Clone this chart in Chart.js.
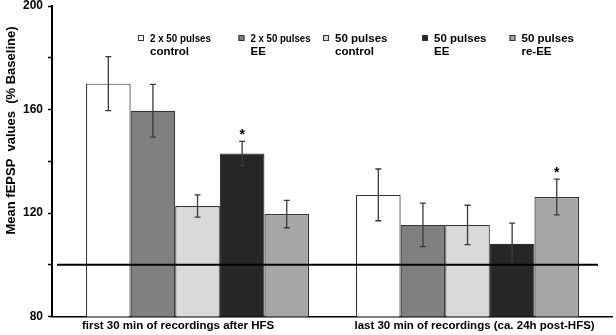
<!DOCTYPE html>
<html><head><meta charset="utf-8">
<script src="https://cdn.jsdelivr.net/npm/chart.js@4.4.0/dist/chart.umd.min.js"></script>
<style>html,body{margin:0;padding:0;background:#fff}canvas{display:block}</style>
</head><body>
<canvas id="c" width="616" height="335"></canvas>
<script>
// ---- data ----
const categories = ['first 30 min of recordings after HFS', 'last 30 min of recordings (ca. 24h post-HFS)'];
const seriesLabels = [['2 x 50 pulses', 'control'], ['2 x 50 pulses', 'EE'], ['50 pulses', 'control'], ['50 pulses', 'EE'], ['50 pulses', 're-EE']];
const mean2x50Control = [170, 127];
const sem2x50Control = [10.4, 10];
const mean2x50EE = [159.5, 115.4];
const sem2x50EE = [10.2, 8.4];
const mean50Control = [122.7, 115.4];
const sem50Control = [4.3, 7.6];
const mean50EE = [143, 108.1];
const sem50EE = [4.7, 8];
const mean50ReEE = [119.6, 126.2];
const sem50ReEE = [5.3, 6.9];
const star2x50Control = [false, false];
const star2x50EE = [false, false];
const star50Control = [false, false];
const star50EE = [true, false];
const star50ReEE = [false, true];
const baselineValue = 100;
const yMin = 80, yMax = 200, yStep = 20, yLabelEvery = 40;
const yTitle = 'Mean fEPSP  values  (% Baseline)';

// ---- styles ----
const FONT = '"Liberation Sans", Arial, sans-serif';
const fills = ['#ffffff', '#808080', '#d9d9d9', '#262626', '#a6a6a6'];
const means = [mean2x50Control, mean2x50EE, mean50Control, mean50EE, mean50ReEE];
const sems = [sem2x50Control, sem2x50EE, sem50Control, sem50EE, sem50ReEE];
const stars = [star2x50Control, star2x50EE, star50Control, star50EE, star50ReEE];
const labelPos = [-0.072, 1.026];           // label centre offsets (category units)
const legendX = [138, 238.5, 323, 422, 509.5];
const legendTextW = [61, 60, null, null, null];

const datasets = means.map((m, i) => ({
  label: seriesLabels[i].join(' '),
  data: m.map((v, j) => ({x: j, y: v})),
  backgroundColor: fills[i],
  borderColor: '#333',
  borderWidth: 1.2,
  categoryPercentage: 0.826,
  barPercentage: 1.0
}));

const extras = {
  id: 'extras',
  afterDatasetsDraw(chart) {
    const ctx = chart.ctx, ys = chart.scales.y, ca = chart.chartArea;
    ctx.save();
    datasets.forEach((d, i) => {
      const meta = chart.getDatasetMeta(i);
      meta.data.forEach((el, j) => {
        const m = means[i][j], e = sems[i][j];
        const y1 = ys.getPixelForValue(m + e), y2 = ys.getPixelForValue(m - e);
        ctx.strokeStyle = '#3a3a3a';
        ctx.lineWidth = 1.3;
        ctx.beginPath();
        ctx.moveTo(el.x, y1); ctx.lineTo(el.x, y2);
        ctx.moveTo(el.x - 3, y1); ctx.lineTo(el.x + 3, y1);
        ctx.moveTo(el.x - 3, y2); ctx.lineTo(el.x + 3, y2);
        ctx.stroke();
        if (stars[i][j]) {
          ctx.fillStyle = '#000';
          ctx.font = 'bold 14px ' + FONT;
          ctx.textAlign = 'center';
          ctx.textBaseline = 'alphabetic';
          ctx.fillText('*', el.x, y1 - 2);
        }
      });
    });
    const yb = ys.getPixelForValue(baselineValue);
    ctx.strokeStyle = '#000';
    ctx.lineWidth = 2;
    ctx.beginPath();
    ctx.moveTo(ca.left + 5, yb); ctx.lineTo(ca.right - 14, yb);
    ctx.stroke();
    ctx.restore();
  },
  afterDraw(chart) {
    const ctx = chart.ctx;
    ctx.save();
    seriesLabels.forEach((lines, i) => {
      const x = legendX[i];
      ctx.fillStyle = fills[i];
      ctx.fillRect(x, 35, 6, 6);
      ctx.strokeStyle = '#333';
      ctx.lineWidth = 1;
      ctx.strokeRect(x + 0.5, 35.5, 5, 5);
      ctx.fillStyle = '#000';
      ctx.font = 'bold 11.5px ' + FONT;
      ctx.textAlign = 'left';
      ctx.textBaseline = 'middle';
      if (legendTextW[i]) ctx.fillText(lines[0], x + 12, 38.5, legendTextW[i]);
      else ctx.fillText(lines[0], x + 12, 38.5);
      ctx.fillText(lines[1], x + 12, 52);
    });
    ctx.translate(11, 130.5);
    ctx.rotate(-Math.PI / 2);
    ctx.font = 'bold 13px ' + FONT;
    ctx.textAlign = 'center';
    ctx.textBaseline = 'middle';
    ctx.fillStyle = '#000';
    ctx.fillText(yTitle, 0, 0);
    ctx.restore();
  }
};

new Chart(document.getElementById('c'), {
  type: 'bar',
  data: {datasets},
  plugins: [extras],
  options: {
    responsive: false,
    devicePixelRatio: 1,
    animation: false,
    layout: {padding: {top: 6, right: 4, left: 0, bottom: 0}},
    plugins: {legend: {display: false}, tooltip: {enabled: false}},
    scales: {
      x: {
        type: 'linear',
        offset: false,
        min: -0.539, max: 1.535,
        afterBuildTicks: s => { s.ticks = labelPos.map(v => ({value: v})); },
        afterFit: s => { s.height = 18.5; },
        ticks: {
          callback: (v, i) => categories[i],
          autoSkip: false, maxRotation: 0, padding: 2,
          color: '#000', font: {family: FONT, weight: 'bold', size: 11.5}
        },
        grid: {display: true, offset: false, drawOnChartArea: false, drawTicks: false},
        border: {color: '#000', width: 1.5}
      },
      y: {
        min: yMin, max: yMax,
        afterFit: s => { s.width = 52; s.paddingTop = 0; s.paddingBottom = 0; },
        ticks: {
          stepSize: yStep,
          callback: v => (v % yLabelEvery === 0 ? v : ''),
          padding: 5, color: '#000',
          font: {family: FONT, weight: 'bold', size: 12}
        },
        grid: {drawOnChartArea: false, drawTicks: true, tickLength: 4, tickColor: '#000', tickWidth: 1.5},
        border: {color: '#000', width: 2}
      }
    }
  }
});
</script>
</body></html>
